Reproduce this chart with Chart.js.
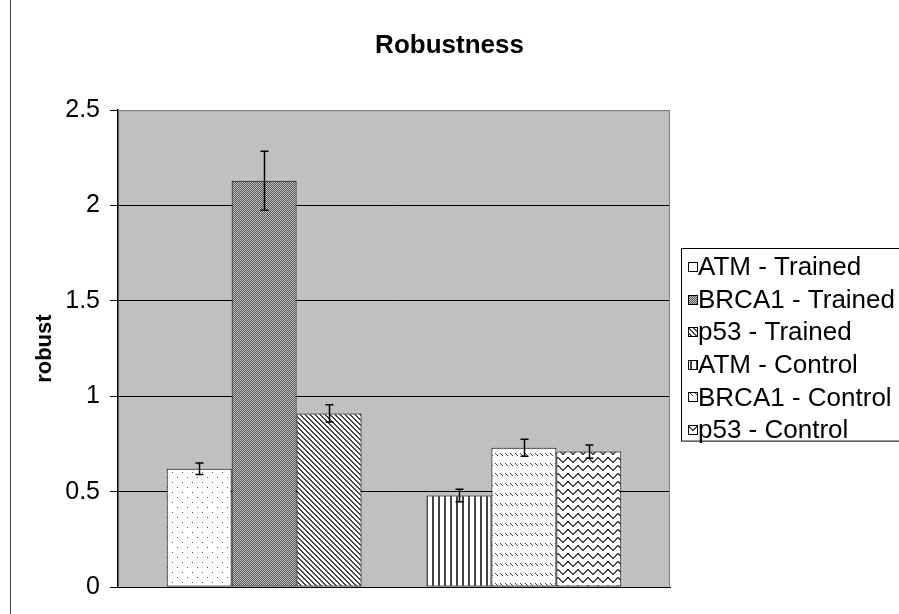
<!DOCTYPE html>
<html>
<head>
<meta charset="utf-8">
<script src="https://cdn.jsdelivr.net/npm/chart.js@4.4.1/dist/chart.umd.min.js"></script>
<style>
    html, body { margin: 0; padding: 0; background: #fff; }
    #wrap { width: 899px; height: 614px; position: relative; }
</style>
</head>
<body>
<div id="wrap"><canvas id="chart"></canvas></div>
<script>
// données
const categories = [''];
const seriesNames = ['ATM - Trained', 'BRCA1 - Trained', 'p53 - Trained', 'ATM - Control', 'BRCA1 - Control', 'p53 - Control'];
const robustValues = [0.62, 2.13, 0.91, 0.48, 0.73, 0.71];
const robustErrors = [0.03, 0.155, 0.045, 0.033, 0.045, 0.035];
const yTicks = [0, 0.5, 1, 1.5, 2, 2.5];

const FONT = '"Liberation Sans", Arial, Helvetica, sans-serif';

function makePattern(w, h, draw) {
    const c = document.createElement('canvas');
    c.width = w;
    c.height = h;
    const ctx = c.getContext('2d');
    ctx.fillStyle = '#fff';
    ctx.fillRect(0, 0, w, h);
    draw(ctx);
    return document.createElement('canvas').getContext('2d').createPattern(c, 'repeat');
}

const patterns = [
    // points clairsemés
    makePattern(10, 10, ctx => {
        ctx.fillStyle = '#555';
        ctx.fillRect(2, 2, 1, 1);
        ctx.fillRect(7, 7, 1, 1);
    }),
    // damier foncé
    makePattern(2, 2, ctx => {
        ctx.fillStyle = '#505050';
        ctx.fillRect(0, 0, 2, 2);
        ctx.fillStyle = '#c8c8c8';
        ctx.fillRect(0, 0, 1, 1);
        ctx.fillRect(1, 1, 1, 1);
    }),
    // diagonales descendantes
    makePattern(5, 5, ctx => {
        ctx.fillStyle = '#444';
        for (let x = 0; x < 5; x++) {
            for (let y = 0; y < 5; y++) {
                if (((x - y) % 5 + 5) % 5 < 2) ctx.fillRect(x, y, 1, 1);
            }
        }
    }),
    // lignes verticales
    makePattern(6, 1, ctx => {
        ctx.fillStyle = '#444';
        ctx.fillRect(0, 0, 2, 1);
    }),
    // tirets diagonaux
    makePattern(10, 10, ctx => {
        ctx.fillStyle = '#444';
        for (let x = 0; x < 10; x++) {
            for (let y = 0; y < 3; y++) {
                if (((x - y) % 5 + 5) % 5 === 0) ctx.fillRect(x, y + 3, 1, 1);
            }
        }
    }),
    // vagues
    makePattern(10, 8, ctx => {
        ctx.fillStyle = '#444';
        for (let x = 0; x < 10; x++) {
            const y = Math.round(3 + 2 * Math.sin(2 * Math.PI * x / 10));
            ctx.fillRect(x, y, 1, 2);
        }
    })
];

const datasets = seriesNames.map((name, i) => ({
    label: name,
    data: [robustValues[i]],
    errors: [robustErrors[i]],
    backgroundColor: patterns[i],
    borderColor: '#000',
    borderWidth: 1,
    borderSkipped: false
}));
// série vide entre Trained et Control (comme dans Excel)
datasets.splice(3, 0, { label: '', data: [null], errors: [0], spacer: true });

const plotBackground = {
    id: 'plotBackground',
    beforeDraw(chart) {
        const { ctx, chartArea: a } = chart;
        ctx.save();
        ctx.fillStyle = '#c0c0c0';
        ctx.fillRect(a.left, a.top, a.right - a.left, a.bottom - a.top);
        ctx.restore();
    },
    afterDraw(chart) {
        const { ctx, chartArea: a } = chart;
        ctx.save();
        ctx.strokeStyle = '#808080';
        ctx.lineWidth = 1;
        ctx.beginPath();
        ctx.moveTo(a.left, a.top + 0.5);
        ctx.lineTo(a.right - 0.5, a.top + 0.5);
        ctx.lineTo(a.right - 0.5, a.bottom);
        ctx.stroke();
        // bord gauche du cadre
        ctx.strokeStyle = '#404040';
        ctx.beginPath();
        ctx.moveTo(10.5, 0);
        ctx.lineTo(10.5, chart.height);
        ctx.stroke();
        ctx.restore();
    }
};

const errorBars = {
    id: 'errorBars',
    afterDatasetsDraw(chart) {
        const { ctx } = chart;
        const y = chart.scales.y;
        ctx.save();
        ctx.strokeStyle = '#000';
        ctx.lineWidth = 1.5;
        chart.data.datasets.forEach((ds, i) => {
            if (ds.spacer) return;
            chart.getDatasetMeta(i).data.forEach((bar, j) => {
                const v = ds.data[j];
                const e = ds.errors[j];
                const top = y.getPixelForValue(v + e);
                const bot = y.getPixelForValue(v - e);
                const x = Math.round(bar.x) + 0.5;
                ctx.beginPath();
                ctx.moveTo(x, top);
                ctx.lineTo(x, bot);
                ctx.moveTo(x - 4, top);
                ctx.lineTo(x + 4, top);
                ctx.moveTo(x - 4, bot);
                ctx.lineTo(x + 4, bot);
                ctx.stroke();
            });
        });
        ctx.restore();
    }
};

const boxLegend = {
    id: 'boxLegend',
    afterDraw(chart) {
        const { ctx } = chart;
        const items = chart.data.datasets.filter(ds => !ds.spacer);
        const left = 681, top = 248, rowH = 32.6, firstY = 267;
        ctx.save();
        ctx.fillStyle = '#fff';
        ctx.fillRect(left, top, chart.width - left + 10, rowH * items.length - 3);
        ctx.strokeStyle = '#000';
        ctx.lineWidth = 1;
        ctx.strokeRect(left + 0.5, top + 0.5, chart.width - left + 10, rowH * items.length - 3);
        ctx.font = '26px ' + FONT;
        ctx.textBaseline = 'middle';
        items.forEach((ds, i) => {
            const cy = firstY + i * rowH;
            ctx.fillStyle = ds.backgroundColor;
            ctx.fillRect(688, Math.round(cy) - 5, 9, 9);
            ctx.strokeStyle = '#000';
            ctx.strokeRect(688.5, Math.round(cy) - 4.5, 9, 9);
            ctx.fillStyle = '#000';
            ctx.fillText(ds.label, 698, cy + 1);
        });
        ctx.restore();
    }
};

new Chart(document.getElementById('chart'), {
    type: 'bar',
    data: { labels: categories, datasets },
    plugins: [plotBackground, errorBars, boxLegend],
    options: {
        responsive: true,
        maintainAspectRatio: false,
        animation: false,
        categoryPercentage: 7 / 8.5,
        barPercentage: 1,
        layout: { padding: { left: 0, right: 0, top: 0, bottom: 19 } },
        plugins: {
            legend: { display: false },
            tooltip: { enabled: false },
            title: {
                display: true,
                text: 'Robustness',
                color: '#000',
                font: { family: FONT, size: 26, weight: 'bold' },
                padding: { top: 30, bottom: 49 }
            }
        },
        scales: {
            x: {
                ticks: { display: false },
                grid: { display: false },
                border: { display: true, color: '#000', width: 1 }
            },
            y: {
                min: 0,
                max: 2.5,
                afterBuildTicks(scale) {
                    scale.ticks = yTicks.map(v => ({ value: v }));
                },
                afterFit(scale) {
                    scale.width = 118;
                },
                ticks: {
                    color: '#000',
                    padding: 10,
                    font: { family: FONT, size: 25 },
                    callback: v => String(v)
                },
                grid: {
                    color: ctx => ctx.tick && ctx.tick.value === 2.5 ? '#808080' : '#000',
                    lineWidth: 1,
                    tickLength: 8,
                    tickColor: '#000'
                },
                border: { display: true, color: '#000', width: 1.5 },
                title: {
                    display: true,
                    text: 'robust',
                    color: '#000',
                    font: { family: FONT, size: 22, weight: 'bold' },
                    padding: { top: 32, bottom: 0 }
                }
            },
            // réserve la place de la légende à droite
            yRight: {
                position: 'right',
                display: true,
                ticks: { display: false },
                grid: { display: false },
                border: { display: false },
                afterFit(scale) {
                    scale.width = 229;
                }
            }
        }
    }
});
</script>
</body>
</html>
